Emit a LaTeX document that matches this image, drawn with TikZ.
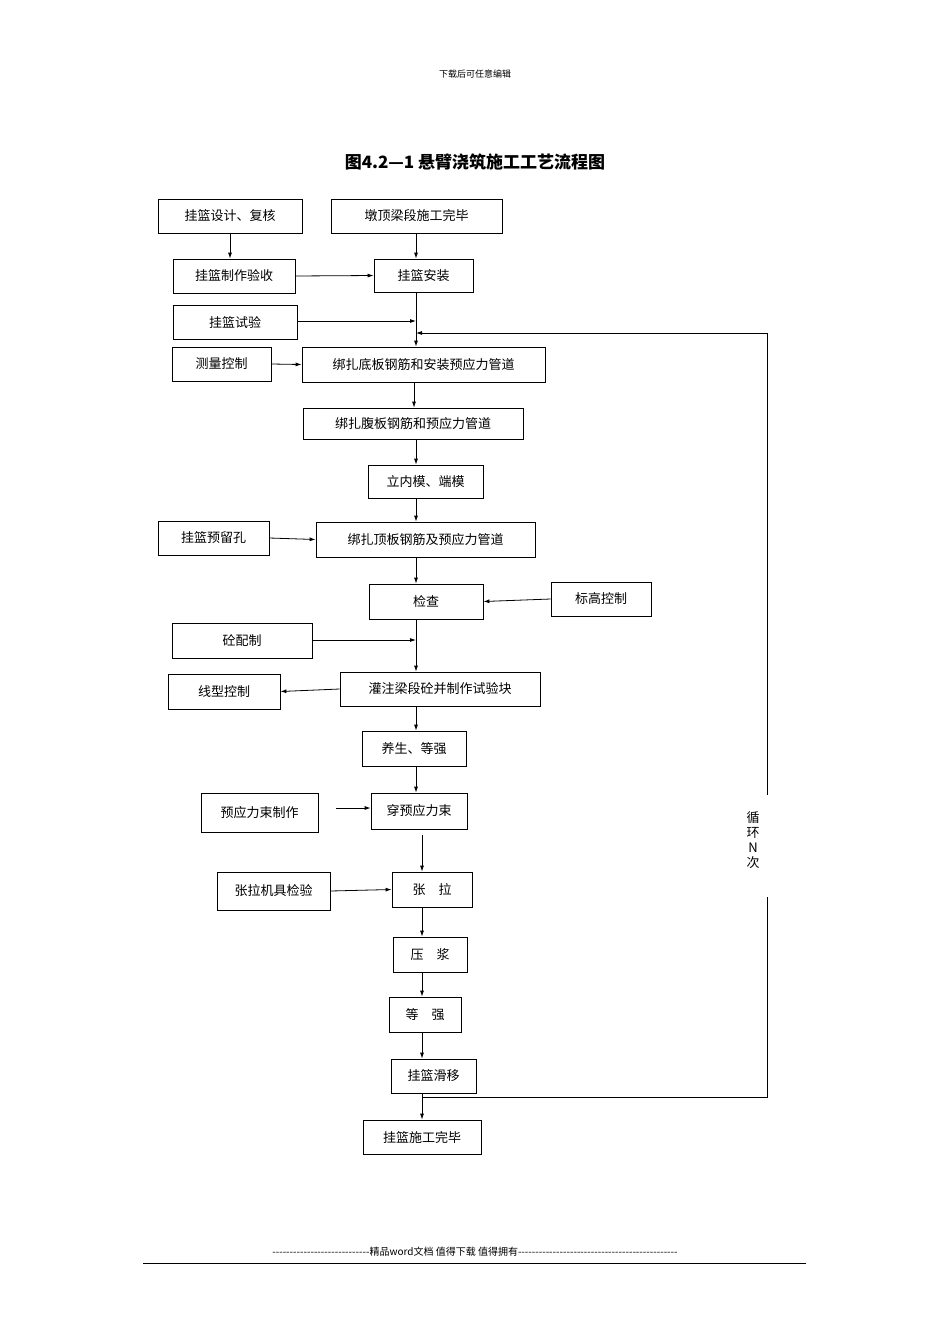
\documentclass[tikz,border=0pt]{standalone}
\usepackage{fontspec}
\setmainfont{Liberation Serif}
\newfontfamily\cjk{Noto Sans CJK SC}
\usetikzlibrary{arrows.meta}
\begin{document}
\begin{tikzpicture}[x=1pt,y=-1pt,
 bx/.style={draw,thick,minimum height=#1,inner sep=0pt,font=\cjk\fontsize{13}{13}\selectfont},
 bx/.default=34pt,
 ar/.style={-{Latex[length=6pt,width=4pt]},line width=0.8pt},
 ln/.style={line width=0.8pt}]
\useasboundingbox (0,0) rectangle (950,1344);
\node[font=\cjk\fontsize{9}{9}\selectfont] (hd) at (475,74) {下载后可任意编辑};
\node[font=\cjk\bfseries\fontsize{17}{17}\selectfont] (tt) at (475,162) {图4.2—1 悬臂浇筑施工工艺流程图};
\newcommand{\bb}[6]{\node[bx=#4-#3,minimum width=#2-#1] (#5) at ({(#1+#2)/2},{(#3+#4)/2}) {#6};}
\bb{158}{302}{199}{233}{a}{挂篮设计、复核}
\bb{331}{502}{199}{233}{b}{墩顶梁段施工完毕}
\bb{173}{295}{259}{293}{c}{挂篮制作验收}
\bb{374}{473}{259}{292}{d}{挂篮安装}
\bb{173}{297}{305}{339}{e}{挂篮试验}
\bb{172}{271}{347}{381}{f}{测量控制}
\bb{302}{545}{347}{382}{g}{绑扎底板钢筋和安装预应力管道}
\bb{303}{523}{408}{439}{h}{绑扎腹板钢筋和预应力管道}
\bb{368}{483}{465}{498}{i}{立内模、端模}
\bb{158}{269}{521}{555}{j}{挂篮预留孔}
\bb{316}{535}{522}{557}{k}{绑扎顶板钢筋及预应力管道}
\bb{369}{483}{584}{619}{l}{检查}
\bb{551}{651}{582}{616}{m}{标高控制}
\bb{172}{312}{623}{658}{n}{砼配制}
\bb{168}{280}{674}{709}{o}{线型控制}
\bb{340}{540}{672}{706}{p}{灌注梁段砼并制作试验块}
\bb{362}{466}{731}{766}{q}{养生、等强}
\bb{201}{318}{793}{832}{r}{预应力束制作}
\bb{371}{467}{793}{829}{s}{穿预应力束}
\bb{217}{330}{872}{910}{t}{张拉机具检验}
\bb{392}{472}{872}{907}{u}{张\quad 拉}
\bb{393}{467}{937}{972}{v}{压\quad 浆}
\bb{389}{461}{997}{1032}{w}{等\quad 强}
\bb{391}{476}{1059}{1093}{x}{挂篮滑移}
\bb{363}{481}{1120}{1154}{y}{挂篮施工完毕}
\coordinate (m1) at (416,321);
\coordinate (m2) at (416,333);
\coordinate (m3) at (416,640);
\coordinate (r1) at (767,333);
\coordinate (r2) at (767,795);
\coordinate (r3) at (767,897);
\coordinate (r4) at (767,1097);
\coordinate (r5) at (422,1097);
\coordinate (s1) at (336,808);
\coordinate (s2) at (422,835);
\draw[ar] (a.south -| 230,0) -- (c.north -| 230,0);
\draw[ar] (b.south -| 416,0) -- (d.north -| 416,0);
\draw[ar] (c.east) -- (d.west);
\draw[ar] (e.east |- m1) -- (m1);
\draw[ar] (d.south -| 416,0) -- (g.north -| 416,0);
\draw[ar] (r1) -- (m2);
\draw[ln] (r1) -- (r2) (r3) -- (r4) -- (r5);
\node[font=\cjk\fontsize{13}{15}\selectfont,align=center] (lp) at (753,840) {循\\环\\N\\次};
\draw[ar] (f.east) -- (g.west);
\draw[ar] (g.south -| 414,0) -- (h.north -| 414,0);
\draw[ar] (h.south -| 416,0) -- (i.north -| 416,0);
\draw[ar] (i.south -| 416,0) -- (k.north -| 416,0);
\draw[ar] (j.east) -- (k.west);
\draw[ar] (k.south -| 416,0) -- (l.north -| 416,0);
\draw[ar] (m.west) -- (l.east);
\draw[ar] (l.south -| 416,0) -- (p.north -| 416,0);
\draw[ar] (n.east |- m3) -- (m3);
\draw[ar] (p.west) -- (o.east);
\draw[ar] (p.south -| 416,0) -- (q.north -| 416,0);
\draw[ar] (q.south -| 416,0) -- (s.north -| 416,0);
\draw[ar] (s1) -- (s.west |- s1);
\draw[ar] (s2) -- (u.north -| 422,0);
\draw[ar] (t.east) -- (u.west);
\draw[ar] (u.south -| 422,0) -- (v.north -| 422,0);
\draw[ar] (v.south -| 422,0) -- (w.north -| 422,0);
\draw[ar] (w.south -| 422,0) -- (x.north -| 422,0);
\draw[ar] (x.south -| 422,0) -- (y.north -| 422,0);
\node[font=\cjk\fontsize{10}{10}\selectfont] (ft) at (475,1253) {\strut ----------------------------精品word文档 值得下载 值得拥有----------------------------------------------};
\coordinate (f1) at (143,1263);
\coordinate (f2) at (806,1263);
\draw[line width=0.6pt] (f1) -- (f2);
\end{tikzpicture}
\end{document}
